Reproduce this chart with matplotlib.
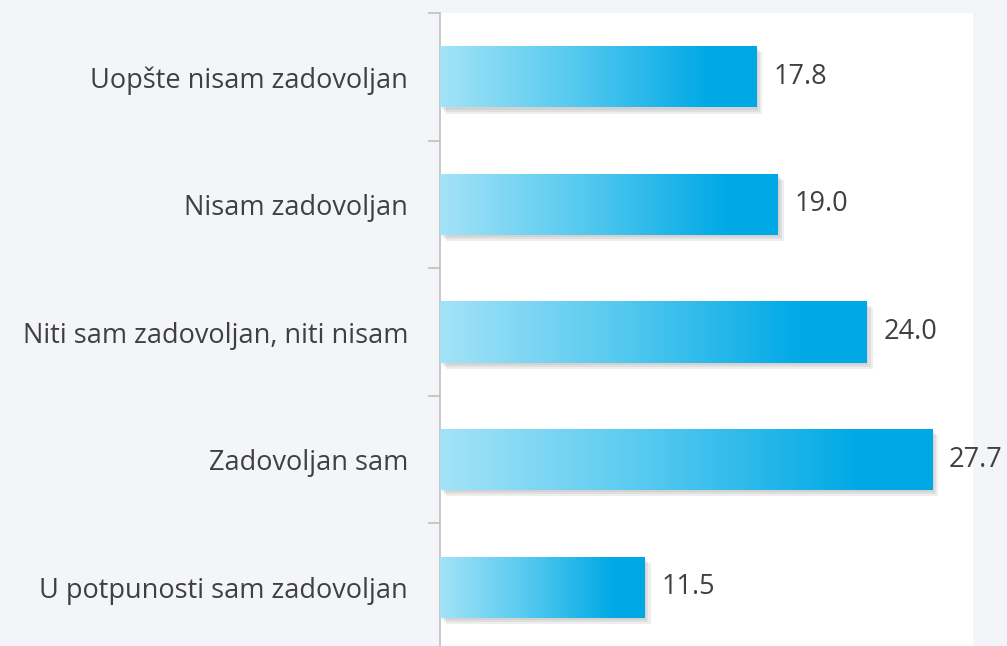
import matplotlib.pyplot as plt
import matplotlib.patheffects as pe
from matplotlib.colors import LinearSegmentedColormap
import numpy as np

plt.rcParams['font.family'] = ['Open Sans', 'DejaVu Sans']

# podaci
categories = ['Uopšte nisam zadovoljan', 'Nisam zadovoljan',
              'Niti sam zadovoljan, niti nisam', 'Zadovoljan sam',
              'U potpunosti sam zadovoljan']
values = [17.8, 19.0, 24.0, 27.7, 11.5]

text_color = '#404040'

fig = plt.figure(figsize=(10.07, 6.46), dpi=100)
fig.patch.set_facecolor('#F3F5F9')
# osi: x 440..973 px, y 13..651 px
ax = fig.add_axes([440 / 1007, (646 - 651) / 646, 533 / 1007, 638 / 646])
ax.set_facecolor('white')

y = np.arange(len(categories))
bars = ax.barh(y, values, height=0.48, color='#00A9E6', zorder=2)

# gradijent svijetlo -> tamno plavo
grad = np.clip(np.linspace(0, 1, 256) / 0.85, 0, 1)[None, :]
cmap = LinearSegmentedColormap.from_list('plava', ['#A3E3F7', '#55C9EF', '#00A9E6'])

# mekana sjena (vise slojeva)
shadow = [pe.SimplePatchShadow(offset=(o, -o), shadow_rgbFace='#777777', alpha=0.12)
          for o in (1.5, 3, 4.5)]
for b in bars:
    b.set_path_effects(shadow + [pe.Normal()])
    x0, y0 = b.get_x(), b.get_y()
    w, h = b.get_width(), b.get_height()
    im = ax.imshow(grad, aspect='auto', cmap=cmap, extent=(x0, x0 + w, y0 + h, y0),
                   zorder=3, interpolation='bicubic')
    im.set_clip_path(b)

ax.set_xlim(0, 30)
ax.set_ylim(len(categories) - 0.5, -0.5)

for i, v in enumerate(values):
    ax.text(v + 0.95, i, f'{v:.1f}', va='center', ha='left', fontsize=19.5,
            color=text_color, zorder=4)

ax.set_yticks(y)
ax.set_yticklabels(categories, fontsize=19.5, color=text_color)
ax.set_yticks(np.arange(-0.5, len(categories), 1), minor=True)
ax.tick_params(axis='y', which='major', length=0, pad=23)
ax.tick_params(axis='y', which='minor', length=9, color='#BFBFBF', width=1.2)
ax.set_xticks([])
for s in ['top', 'right', 'bottom']:
    ax.spines[s].set_visible(False)
ax.spines['left'].set_color('#BFBFBF')
ax.spines['left'].set_linewidth(1.2)

fig.savefig('out.png', dpi=100, facecolor=fig.get_facecolor())
